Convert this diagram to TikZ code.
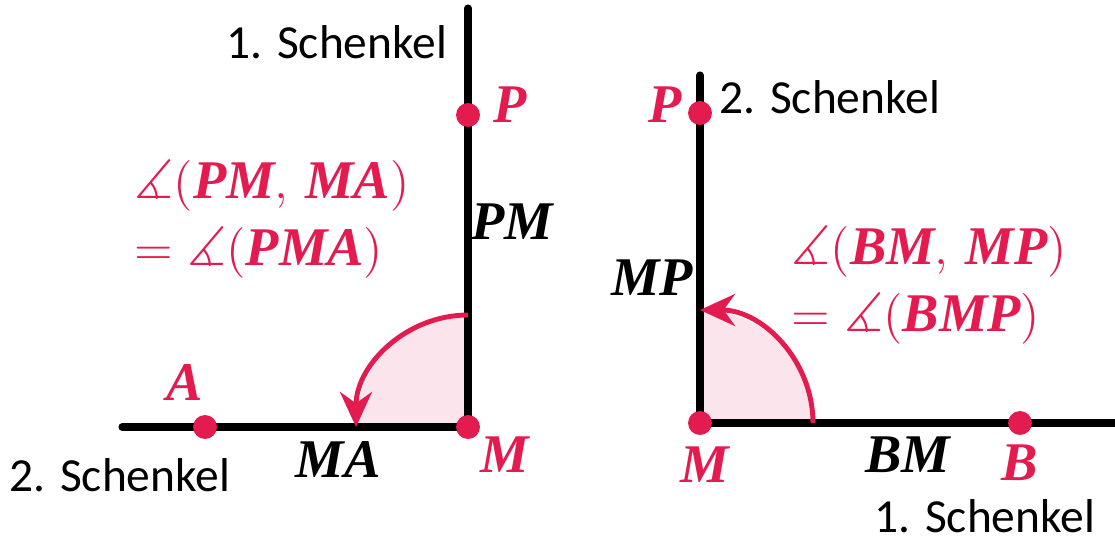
\documentclass[tikz,border=0pt]{standalone}
\usepackage{fontspec}
\setmainfont{Carlito}
\newfontfamily\lettfont{Liberation Serif}
\usepackage{amsmath,amssymb}
\definecolor{pinkcol}{HTML}{E31B4F}
\definecolor{pinkfill}{HTML}{FCE4EC}
\usetikzlibrary{arrows.meta}

\newcommand{\pkt}[1]{\text{\lettfont\bfseries\itshape #1}}

\tikzset{
  schenkel/.style={line width=2pt},
  punkt/.style={circle, fill=pinkcol, inner sep=0pt, minimum size=6.8pt},
  ptlabel/.style={pinkcol, font=\fontsize{15.5}{18}\selectfont},
  seglabel/.style={black, font=\fontsize{15.5}{18}\selectfont},
  txtlabel/.style={black, font=\fontsize{13.5}{16}\selectfont},
  formel/.style={pinkcol, align=left, anchor=west, font=\fontsize{15.5}{19}\selectfont},
  winkel/.style={pinkcol, line width=1.4pt, -{Stealth[length=3.5mm, width=3.2mm]}},
}

\begin{document}
\begin{tikzpicture}[x=0.01cm, y=0.01cm]
\useasboundingbox (0,0) rectangle (1115,542);

% === LEFT: angle (PM, MA) ===
\begin{scope}
  \coordinate (M1) at (468,115);
  \coordinate (T1) at (468,534);
  \coordinate (L1) at (122,115);

  \fill[pinkfill] (M1) -- ++(0,112) arc[start angle=90, end angle=180, radius=112] -- cycle;
  \draw[schenkel, line cap=round] (L1) -- (M1) -- (T1);
  \draw[winkel] (M1) ++(0,112) arc[start angle=90, end angle=180, radius=112];

  \node[punkt] (A) at (205,115) {};
  \node[punkt] (P1) at (468,427) {};
  \node[punkt] (Mp1) at (M1) {};

  \node[ptlabel] at (185,159) {$\pkt{A}$};
  \node[ptlabel] at (510,437) {$\pkt{P}$};
  \node[ptlabel] at (505,87) {$\pkt{M}$};
  \node[seglabel] at (512,320) {$\pkt{PM}$};
  \node[seglabel] at (338,82) {$\pkt{MA}$};
  \node[txtlabel] at (337,500) {1. Schenkel};
  \node[txtlabel] at (120,67) {2. Schenkel};

  \node[formel] at (122,323)
    {$\measuredangle(\pkt{PM},\,\pkt{MA})$\\$= \measuredangle(\pkt{PMA})$};
\end{scope}

% === RIGHT: angle (BM, MP) ===
\begin{scope}
  \coordinate (M2) at (700,119);
  \coordinate (T2) at (700,467);
  \coordinate (R2) at (1125,119);

  \fill[pinkfill] (M2) -- ++(113,0) arc[start angle=0, end angle=90, radius=113] -- cycle;
  \draw[schenkel, line cap=round] (T2) -- (M2) -- (R2);
  \draw[winkel] (M2) ++(113,0) arc[start angle=0, end angle=90, radius=113];

  \node[punkt] (B) at (1020,119) {};
  \node[punkt] (P2) at (700,429) {};
  \node[punkt] (Mp2) at (M2) {};

  \node[ptlabel] at (1020,79) {$\pkt{B}$};
  \node[ptlabel] at (665,437) {$\pkt{P}$};
  \node[ptlabel] at (705,77) {$\pkt{M}$};
  \node[seglabel] at (652,264) {$\pkt{MP}$};
  \node[seglabel] at (908,87) {$\pkt{BM}$};
  \node[txtlabel] at (830,445) {2. Schenkel};
  \node[txtlabel] at (985,26) {1. Schenkel};

  \node[formel] at (779,257)
    {$\measuredangle(\pkt{BM},\,\pkt{MP})$\\$= \measuredangle(\pkt{BMP})$};
\end{scope}

\end{tikzpicture}
\end{document}
